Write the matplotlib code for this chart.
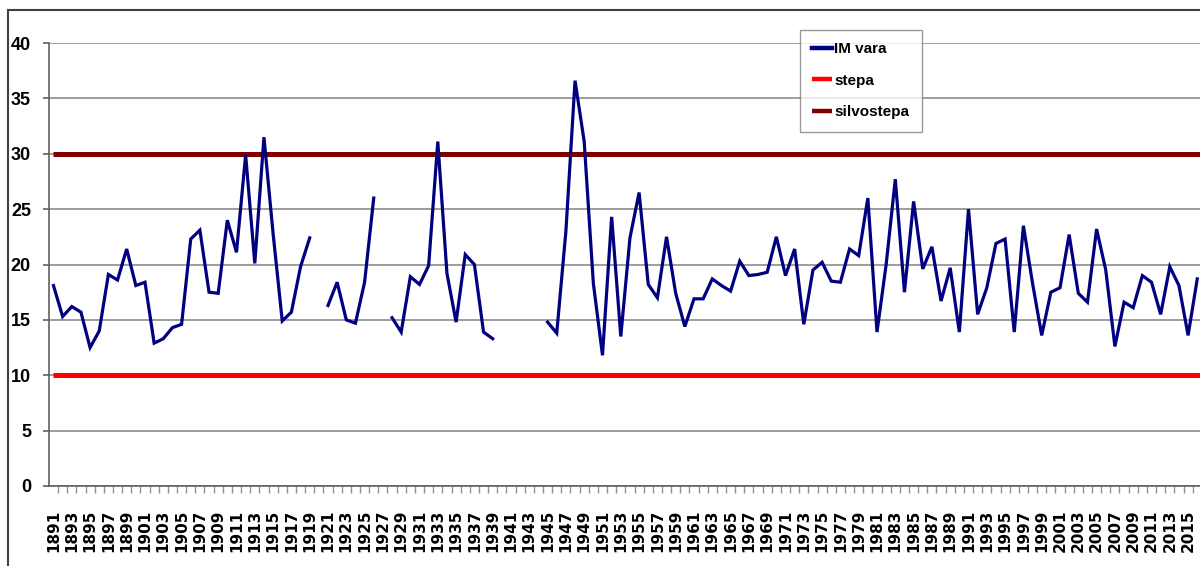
import numpy as np
import matplotlib
matplotlib.use("Agg")
import matplotlib.pyplot as plt
from matplotlib.patches import Rectangle
from matplotlib.ticker import MultipleLocator, FixedLocator

# ani (1891 - 2016)
years = list(range(1891, 2017))

# IM vara (indice de ariditate De Martonne), NaN = lipsa date
im_vara = [
    18.1, 15.3, 16.2, 15.7, 12.5, 14.0, 19.1, 18.6, 21.4, 18.1,  # 1891-1900
    18.4, 12.9, 13.3, 14.3, 14.6, 22.3, 23.1, 17.5, 17.4, 24.0,  # 1901-1910
    21.1, 29.9, 20.1, 31.5, 22.8, 14.9, 15.7, 19.8, 22.4, np.nan,  # 1911-1920
    16.3, 18.4, 15.0, 14.7, 18.4, 26.0, np.nan, 15.2, 13.9, 18.9,  # 1921-1930
    18.2, 19.9, 31.1, 19.2, 14.8, 20.9, 20.0, 13.9, 13.3, np.nan,  # 1931-1940
    np.nan, np.nan, np.nan, np.nan, 14.8, 13.8, 23.0, 36.6, 31.1, 18.3,  # 1941-1950
    11.8, 24.3, 13.5, 22.4, 26.5, 18.2, 17.0, 22.5, 17.4, 14.4,  # 1951-1960
    16.9, 16.9, 18.7, 18.1, 17.6, 20.3, 19.0, 19.1, 19.3, 22.5,  # 1961-1970
    19.0, 21.4, 14.6, 19.5, 20.2, 18.5, 18.4, 21.4, 20.8, 26.0,  # 1971-1980
    13.9, 20.0, 27.7, 17.5, 25.7, 19.6, 21.6, 16.7, 19.7, 13.9,  # 1981-1990
    25.0, 15.5, 17.9, 21.9, 22.3, 13.9, 23.5, 18.3, 13.6, 17.5,  # 1991-2000
    17.9, 22.7, 17.4, 16.6, 23.2, 19.5, 12.6, 16.6, 16.1, 19.0,  # 2001-2010
    18.4, 15.5, 19.8, 18.1, 13.6, 18.7,  # 2011-2016
]

stepa = 10
silvostepa = 30

label_years = years[::2]

FONT = ['Liberation Sans', 'DejaVu Sans']

fig = plt.figure(figsize=(12, 5.66), dpi=100)
W, H = 1200, 566
ax = fig.add_axes([49 / W, 1 - 486 / H, 1 - 49 / W, 443 / H])

ax.plot(years, im_vara, color='#000080', lw=2.3, label='IM vara',
        solid_joinstyle='miter', zorder=4)
ax.plot([years[0], 2016.3], [stepa, stepa], color='#ff0000', lw=3.6,
        label='stepa', zorder=3, solid_capstyle='butt')
ax.plot([years[0], 2016.3], [silvostepa, silvostepa], color='#800000',
        lw=3.6, label='silvostepa', zorder=3, solid_capstyle='butt')

ax.set_ylim(0, 40)
ax.set_xlim(1890.51, 2016.3)
ax.yaxis.set_major_locator(MultipleLocator(5))
ax.grid(axis='y', color='#8c8c8c', lw=1.2)
ax.set_axisbelow(True)

for s in ['top', 'right']:
    ax.spines[s].set_visible(False)
for s in ['left', 'bottom']:
    ax.spines[s].set_color('#606060')
    ax.spines[s].set_linewidth(1.2)

# etichete x la centrul categoriei, liniute la limitele dintre categorii
ax.xaxis.set_major_locator(FixedLocator(label_years))
ax.xaxis.set_minor_locator(FixedLocator([y - 0.5 for y in years] + [years[-1] + 0.5]))
ax.set_xticklabels([str(y) for y in label_years], rotation=90,
                   fontweight='bold', family=['DejaVu Sans'], fontsize=11)
ax.tick_params(axis='x', which='major', length=0, pad=17)
ax.tick_params(axis='x', which='minor', length=5, color='#909090', width=1)
ax.tick_params(axis='y', length=4, color='#606060', width=1.2, pad=9)
for lab in ax.get_yticklabels():
    lab.set_fontweight('bold')
    lab.set_family(FONT)
    lab.set_fontsize(13)

leg = fig.legend(loc='upper left', bbox_to_anchor=(800 / W, 1 - 30 / H),
                 prop={'family': FONT, 'weight': 'bold', 'size': 11},
                 frameon=True, fancybox=False, edgecolor='#808080',
                 handlelength=1.3, handletextpad=0.15, labelspacing=1.15,
                 borderpad=0.8, borderaxespad=0)
leg.get_frame().set_linewidth(1.0)
for h in leg.get_lines():
    h.set_linewidth(3.2)

# chenarul graficului
fig.patches.append(Rectangle((7.5 / W, -0.1), 1.2, 1.1 - 10 / H,
                             transform=fig.transFigure, fill=False,
                             edgecolor='#404040', lw=1.5))

fig.savefig('out.png', dpi=100)
